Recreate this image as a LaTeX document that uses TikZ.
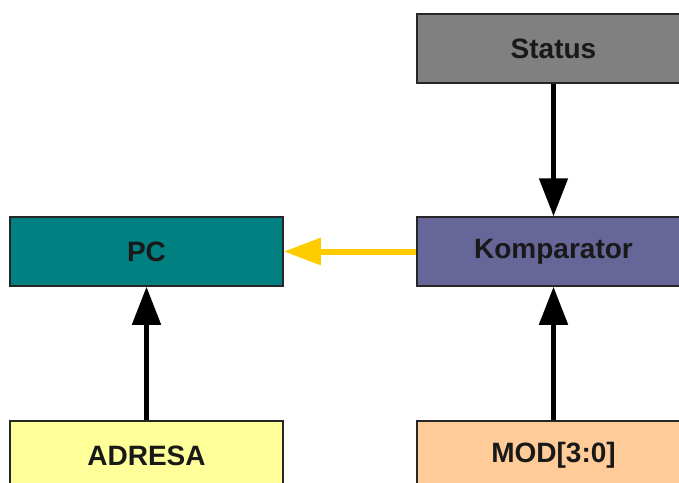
\documentclass[tikz,border=0pt]{standalone}
\usepackage{fontspec}
\setmainfont{Liberation Sans}
\usetikzlibrary{arrows.meta}

\definecolor{statusfill}{HTML}{808080}
\definecolor{pcfill}{HTML}{008080}
\definecolor{kompfill}{HTML}{666699}
\definecolor{adrfill}{HTML}{FFFF99}
\definecolor{modfill}{HTML}{FFCC99}
\definecolor{zluta}{HTML}{FFCC00}

\begin{document}
\begin{tikzpicture}
[x=1pt,y=-1pt,
 blok/.style={draw=black!85,line width=1.5pt,minimum width=273pt,minimum height=69pt,
   inner sep=0pt,text=black!90,font=\bfseries\fontsize{28}{28}\selectfont},
 spoj/.style={line width=5pt,-{Triangle[length=38pt,width=28pt]}}]

  \useasboundingbox (0,0) rectangle (679,482);

  % bloky
  \node[blok,fill=statusfill] (status) at (553.5,48.5)  {Status};
  \node[blok,fill=pcfill]     (pc)     at (146.5,251.5) {PC};
  \node[blok,fill=kompfill]   (komp)   at (553.5,251.5) {Komparator};
  \node[blok,fill=adrfill]    (adresa) at (146.5,455.5) {ADRESA};
  \node[blok,fill=modfill]    (mod)    at (553.5,455.5) {MOD[3:0]};

  % spoje
  \draw[spoj] (status) -- (komp);
  \draw[spoj] (mod) -- (komp);
  \draw[spoj] (adresa) -- (pc);
  \draw[spoj,color=zluta,line width=6pt,-{Triangle[length=37pt,width=26pt]}] (komp) -- (pc);
\end{tikzpicture}
\end{document}
